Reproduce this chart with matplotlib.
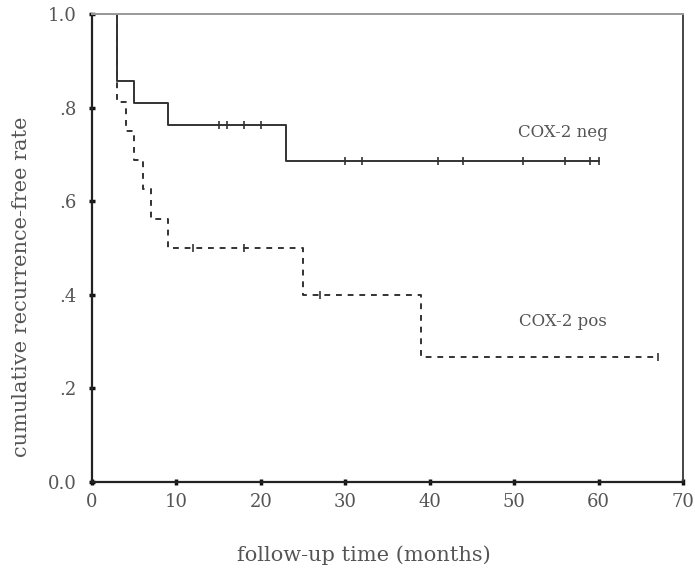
import matplotlib.pyplot as plt

# COX-2 negative group (solid)
neg_time = [0, 3, 5, 9, 23, 60]
neg_surv = [1.0, 0.857, 0.81, 0.762, 0.686, 0.686]
neg_cens_time = [15, 16, 18, 20, 30, 32, 41, 44, 51, 56, 59, 60]
neg_cens_surv = [0.762, 0.762, 0.762, 0.762, 0.686, 0.686, 0.686, 0.686, 0.686, 0.686, 0.686, 0.686]

# COX-2 positive group (dashed)
pos_time = [0, 3, 4, 5, 6, 7, 9, 25, 39, 67]
pos_surv = [1.0, 0.8125, 0.75, 0.6875, 0.625, 0.5625, 0.5, 0.4, 0.267, 0.267]
pos_cens_time = [12, 18, 27, 67]
pos_cens_surv = [0.5, 0.5, 0.4, 0.267]

x_ticks = [0, 10, 20, 30, 40, 50, 60, 70]
y_ticks = [0.0, 0.2, 0.4, 0.6, 0.8, 1.0]
y_labels = ['0.0', '.2', '.4', '.6', '.8', '1.0']

plt.rcParams['font.family'] = ['DejaVu Serif']

fig = plt.figure(figsize=(6.95, 5.73), dpi=100)
ax = fig.add_axes([0.1324, 0.1588, 0.8503, 0.8168])

line_col = '#333333'
text_col = '#555555'

ax.step(neg_time, neg_surv, where='post', color=line_col, lw=1.4)
ax.plot(neg_cens_time, neg_cens_surv, ls='none', marker='|', ms=6, mew=1.2, color=line_col)

ax.step(pos_time, pos_surv, where='post', color=line_col, lw=1.4, ls=(0, (3, 3)))
ax.plot(pos_cens_time, pos_cens_surv, ls='none', marker='|', ms=6, mew=1.2, color=line_col)

ax.text(55.8, 0.746, 'COX-2 neg', color=text_col, fontsize=12, ha='center', va='center')
ax.text(55.8, 0.342, 'COX-2 pos', color=text_col, fontsize=12, ha='center', va='center')

ax.set_xlim(0, 70)
ax.set_ylim(0, 1.0)
ax.set_xticks(x_ticks)
ax.set_yticks(y_ticks)
ax.set_yticklabels(y_labels)
ax.tick_params(direction='inout', length=4, width=2.5, colors='#111111',
               labelcolor=text_col, labelsize=13)
ax.tick_params(axis='y', pad=9)
ax.tick_params(axis='x', pad=6)

for side in ['left', 'bottom']:
    ax.spines[side].set_color('#222222')
    ax.spines[side].set_linewidth(1.6)
ax.spines['top'].set_color('#999999')
ax.spines['top'].set_linewidth(1.4)
ax.spines['right'].set_color('#444444')
ax.spines['right'].set_linewidth(1.4)

ax.set_xlabel('follow-up time (months)', color=text_col, fontsize=15)
ax.set_ylabel('cumulative recurrence-free rate', color=text_col, fontsize=15)
ax.xaxis.set_label_coords((364 - 92) / 591, (482 - 545) / 468)
ax.yaxis.set_label_coords((31 - 92) / 591, (482 - 287) / 468)

fig.savefig('out.png', dpi=100)
